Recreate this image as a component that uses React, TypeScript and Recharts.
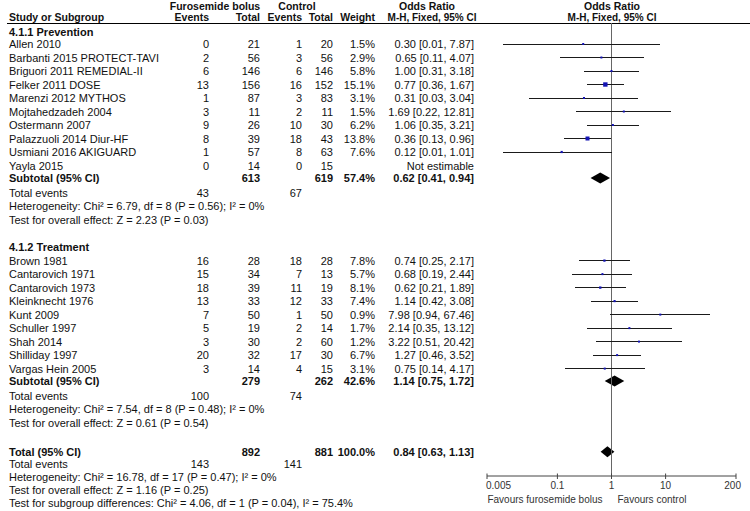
import { ComposedChart, XAxis, YAxis, Scatter, ReferenceLine, ReferenceArea, Customized } from 'recharts'

// ---- data ----
const prevStudies = [
  'Allen 2010', 'Barbanti 2015 PROTECT-TAVI', 'Briguori 2011 REMEDIAL-II', 'Felker 2011 DOSE',
  'Marenzi 2012 MYTHOS', 'Mojtahedzadeh 2004', 'Ostermann 2007', 'Palazzuoli 2014 Diur-HF',
  'Usmiani 2016 AKIGUARD', 'Yayla 2015',
]
const prevEventsF = [0, 2, 6, 13, 1, 3, 9, 8, 1, 0]
const prevTotalF  = [21, 56, 146, 156, 87, 11, 26, 39, 57, 14]
const prevEventsC = [1, 3, 6, 16, 3, 2, 10, 18, 8, 0]
const prevTotalC  = [20, 56, 146, 152, 83, 11, 30, 43, 63, 15]
const prevWeight  = [1.5, 2.9, 5.8, 15.1, 3.1, 1.5, 6.2, 13.8, 7.6, null]
const prevOR      = [0.30, 0.65, 1.00, 0.77, 0.31, 1.69, 1.06, 0.36, 0.12, null]
const prevLow     = [0.01, 0.11, 0.31, 0.36, 0.03, 0.22, 0.35, 0.13, 0.01, null]
const prevHigh    = [7.87, 4.07, 3.18, 1.67, 3.04, 12.81, 3.21, 0.96, 1.01, null]

const treatStudies = [
  'Brown 1981', 'Cantarovich 1971', 'Cantarovich 1973', 'Kleinknecht 1976', 'Kunt 2009',
  'Schuller 1997', 'Shah 2014', 'Shilliday 1997', 'Vargas Hein 2005',
]
const treatEventsF = [16, 15, 18, 13, 7, 5, 3, 20, 3]
const treatTotalF  = [28, 34, 39, 33, 50, 19, 30, 32, 14]
const treatEventsC = [18, 7, 11, 12, 1, 2, 2, 17, 4]
const treatTotalC  = [28, 13, 19, 33, 50, 14, 60, 30, 15]
const treatWeight  = [7.8, 5.7, 8.1, 7.4, 0.9, 1.7, 1.2, 6.7, 3.1]
const treatOR      = [0.74, 0.68, 0.62, 1.14, 7.98, 2.14, 3.22, 1.27, 0.75]
const treatLow     = [0.25, 0.19, 0.21, 0.42, 0.94, 0.35, 0.51, 0.46, 0.14]
const treatHigh    = [2.17, 2.44, 1.89, 3.08, 67.46, 13.12, 20.42, 3.52, 4.17]

const groupNames      = ['4.1.1 Prevention', '4.1.2 Treatment']
const groupTotalF     = [613, 279]
const groupTotalC     = [619, 262]
const groupWeight     = [57.4, 42.6]
const groupOR         = [0.62, 1.14]
const groupLow        = [0.41, 0.75]
const groupHigh       = [0.94, 1.72]
const groupEventsF    = [43, 100]
const groupEventsC    = [67, 74]
const groupHet = [
  'Heterogeneity: Chi² = 6.79, df = 8 (P = 0.56); I² = 0%',
  'Heterogeneity: Chi² = 7.54, df = 8 (P = 0.48); I² = 0%',
]
const groupZ = [
  'Test for overall effect: Z = 2.23 (P = 0.03)',
  'Test for overall effect: Z = 0.61 (P = 0.54)',
]

const totalF = 892
const totalC = 881
const totalWeight = 100
const totalOR = 0.84
const totalLow = 0.63
const totalHigh = 1.13
const totalEventsF = 143
const totalEventsC = 141
const totalFooter = [
  'Heterogeneity: Chi² = 16.78, df = 17 (P = 0.47); I² = 0%',
  'Test for overall effect: Z = 1.16 (P = 0.25)',
  'Test for subgroup differences: Chi² = 4.06, df = 1 (P = 0.04), I² = 75.4%',
]

const axisTicks  = [0.005, 0.1, 1, 10, 200]
const tickLabels = ['0.005', '0.1', '1', '10', '200']

// ---- styling / layout ----
const FONT   = '"Liberation Sans", Arial, Helvetica, sans-serif'
const FS     = 11
const INK    = '#111'
const SQUARE = '#1414b4'
const ROW    = 13.5
const TOP    = 23
const AXIS_H = 35
const HEAD_GAP = [12, 14]

const fmtOR = (o: number, l: number, h: number) => `${o.toFixed(2)} [${l.toFixed(2)}, ${h.toFixed(2)}]`
const fmtW  = (w: number) => `${w.toFixed(1)}%`

interface TextRow {
  y: number
  label: string
  bold?: boolean
  ef?: number | string
  tf?: number | string
  ec?: number | string
  tc?: number | string
  wt?: string
  or?: string
}
interface StudyMark { y: number; or: number; lo: number; hi: number; weight: number }
interface Diamond { y: number; or: number; lo: number; hi: number }

const groups = [
  { names: prevStudies, ef: prevEventsF, tf: prevTotalF, ec: prevEventsC, tc: prevTotalC, w: prevWeight, or: prevOR, lo: prevLow, hi: prevHigh },
  { names: treatStudies, ef: treatEventsF, tf: treatTotalF, ec: treatEventsC, tc: treatTotalC, w: treatWeight, or: treatOR, lo: treatLow, hi: treatHigh },
]

const textRows: TextRow[] = []
const studyMarks: StudyMark[] = []
const diamonds: Diamond[] = []

let y = 32
groups.forEach((g, gi) => {
  textRows.push({ y, label: groupNames[gi], bold: true })
  y += HEAD_GAP[gi]
  g.names.forEach((name, i) => {
    const w = g.w[i], o = g.or[i], l = g.lo[i], h = g.hi[i]
    textRows.push({
      y, label: name, ef: g.ef[i], tf: g.tf[i], ec: g.ec[i], tc: g.tc[i],
      wt: w == null ? '' : fmtW(w),
      or: o == null || l == null || h == null ? 'Not estimable' : fmtOR(o, l, h),
    })
    if (o != null && l != null && h != null && w != null) studyMarks.push({ y, or: o, lo: l, hi: h, weight: w })
    y += ROW
  })
  y += 12.5 - ROW
  textRows.push({
    y, label: 'Subtotal (95% CI)', bold: true, tf: groupTotalF[gi], tc: groupTotalC[gi],
    wt: fmtW(groupWeight[gi]), or: fmtOR(groupOR[gi], groupLow[gi], groupHigh[gi]),
  })
  diamonds.push({ y, or: groupOR[gi], lo: groupLow[gi], hi: groupHigh[gi] })
  y += 15
  textRows.push({ y, label: 'Total events', ef: groupEventsF[gi], ec: groupEventsC[gi] })
  y += 13.3
  textRows.push({ y, label: groupHet[gi] })
  y += 13.3
  textRows.push({ y, label: groupZ[gi] })
  y += 27
})
y += 2
textRows.push({
  y, label: 'Total (95% CI)', bold: true, tf: totalF, tc: totalC,
  wt: fmtW(totalWeight), or: fmtOR(totalOR, totalLow, totalHigh),
})
diamonds.push({ y, or: totalOR, lo: totalLow, hi: totalHigh })
y += 12.7
textRows.push({ y, label: 'Total events', ef: totalEventsF, ec: totalEventsC })
totalFooter.forEach(t => { y += 12.7; textRows.push({ y, label: t }) })

// right edges of the table columns
const COL = { label: 9, ef: 209, tf: 260, ec: 302, tc: 333, wt: 375, or: 474 }

function TableText() {
  const b = 4
  const fw = (bold?: boolean) => (bold ? 'bold' : 'normal')
  return (
    <g fontFamily={FONT} fontSize={FS} fill={INK}>
      <g fontWeight="bold" fontSize={10.5}>
        <text x={215} y={9.5} textAnchor="middle">Furosemide bolus</text>
        <text x={297} y={9.5} textAnchor="middle">Control</text>
        <text x={427} y={9.5} textAnchor="middle">Odds Ratio</text>
        <text x={612} y={9.5} textAnchor="middle">Odds Ratio</text>
        <text x={COL.label} y={20.5}>Study or Subgroup</text>
        <text x={COL.ef} y={20.5} textAnchor="end">Events</text>
        <text x={COL.tf} y={20.5} textAnchor="end">Total</text>
        <text x={COL.ec} y={20.5} textAnchor="end">Events</text>
        <text x={COL.tc} y={20.5} textAnchor="end">Total</text>
        <text x={COL.wt} y={20.5} textAnchor="end">Weight</text>
        <text x={432} y={20.5} textAnchor="middle" fontSize={10}>M-H, Fixed, 95% CI</text>
        <text x={612} y={20.5} textAnchor="middle" fontSize={10}>M-H, Fixed, 95% CI</text>
      </g>
      <line x1={7} x2={750} y1={23.5} y2={23.5} stroke="#000" strokeWidth={1} />
      {textRows.map((r, i) => (
        <g key={i}>
          <text x={COL.label} y={r.y + b} fontWeight={fw(r.bold)}>{r.label}</text>
          {r.ef != null && <text x={COL.ef} y={r.y + b} textAnchor="end">{r.ef}</text>}
          {r.tf != null && <text x={COL.tf} y={r.y + b} textAnchor="end" fontWeight={fw(r.bold)}>{r.tf}</text>}
          {r.ec != null && <text x={COL.ec} y={r.y + b} textAnchor="end">{r.ec}</text>}
          {r.tc != null && <text x={COL.tc} y={r.y + b} textAnchor="end" fontWeight={fw(r.bold)}>{r.tc}</text>}
          {r.wt && <text x={COL.wt} y={r.y + b} textAnchor="end" fontWeight={fw(r.bold)}>{r.wt}</text>}
          {r.or && <text x={COL.or} y={r.y + b} textAnchor="end" fontWeight={fw(r.bold)}>{r.or}</text>}
        </g>
      ))}
    </g>
  )
}

const TICK = 3
function OrTick(props: any) {
  const { x, y, payload } = props
  const v = payload.value
  const i = axisTicks.indexOf(v)
  const anchor = i === 0 ? 'start' : i === axisTicks.length - 1 ? 'end' : 'middle'
  const dx = i === 0 ? -1 : i === axisTicks.length - 1 ? 5 : 0
  const axisY = y - TICK
  return (
    <g fontFamily={FONT} fontSize={10}>
      <line x1={x} x2={x} y1={axisY - 2.5} y2={axisY} stroke="#444" />
      <text x={x + dx} y={y + 10} textAnchor={anchor} fill="#333">{tickLabels[i]}</text>
      {v === 1 && (
        <>
          <text x={x - 9} y={y + 23.5} textAnchor="end" fill="#333">Favours furosemide bolus</text>
          <text x={x + 6} y={y + 23.5} textAnchor="start" fill="#333">Favours control</text>
        </>
      )}
    </g>
  )
}

function WeightSquare(props: any) {
  const { cx, cy, payload } = props
  const s = Math.max(2, 0.29 * payload.weight)
  return <rect x={cx - s / 2} y={cy - s / 2} width={s} height={s} fill={SQUARE} />
}

function diamondShape(d: Diamond) {
  return (p: any) => {
    const { x, y: top, width, height } = p
    const f = (Math.log(d.or) - Math.log(d.lo)) / (Math.log(d.hi) - Math.log(d.lo))
    const mx = x + width * f
    const my = top + height / 2
    return <polygon points={`${x},${my} ${mx},${top} ${x + width},${my} ${mx},${top + height}`} fill="#000" />
  }
}

export default function App() {
  return (
    <div style={{ position: 'fixed', left: 0, top: 0, width: 750, height: 511, background: '#fff' }}>
      <ComposedChart width={750} height={511} margin={{ top: TOP, right: 14, bottom: 0, left: 487 }}>
        <XAxis
          type="number" dataKey="or" scale="log" domain={[0.005, 200]}
          ticks={axisTicks} interval={0} height={AXIS_H}
          tickSize={TICK} tickMargin={0}
          tickLine={{ stroke: '#444' }} axisLine={{ stroke: '#444' }}
          tick={<OrTick />}
        />
        <YAxis type="number" dataKey="y" domain={[TOP, 511 - AXIS_H]} reversed hide />
        <Customized component={TableText} />
        <ReferenceLine x={1} stroke="#666" strokeWidth={1} />
        {studyMarks.map((m, i) => (
          <ReferenceLine key={`ci-${i}`} segment={[{ x: m.lo, y: m.y }, { x: m.hi, y: m.y }]}
            stroke="#1a1a1a" strokeWidth={1} shapeRendering="crispEdges" />
        ))}
        {diamonds.map((d, i) => (
          <ReferenceArea key={`dm-${i}`} x1={d.lo} x2={d.hi} y1={d.y - 5.5} y2={d.y + 5.5} shape={diamondShape(d)} />
        ))}
        <Scatter data={studyMarks} shape={<WeightSquare />} isAnimationActive={false} />
      </ComposedChart>
    </div>
  )
}
